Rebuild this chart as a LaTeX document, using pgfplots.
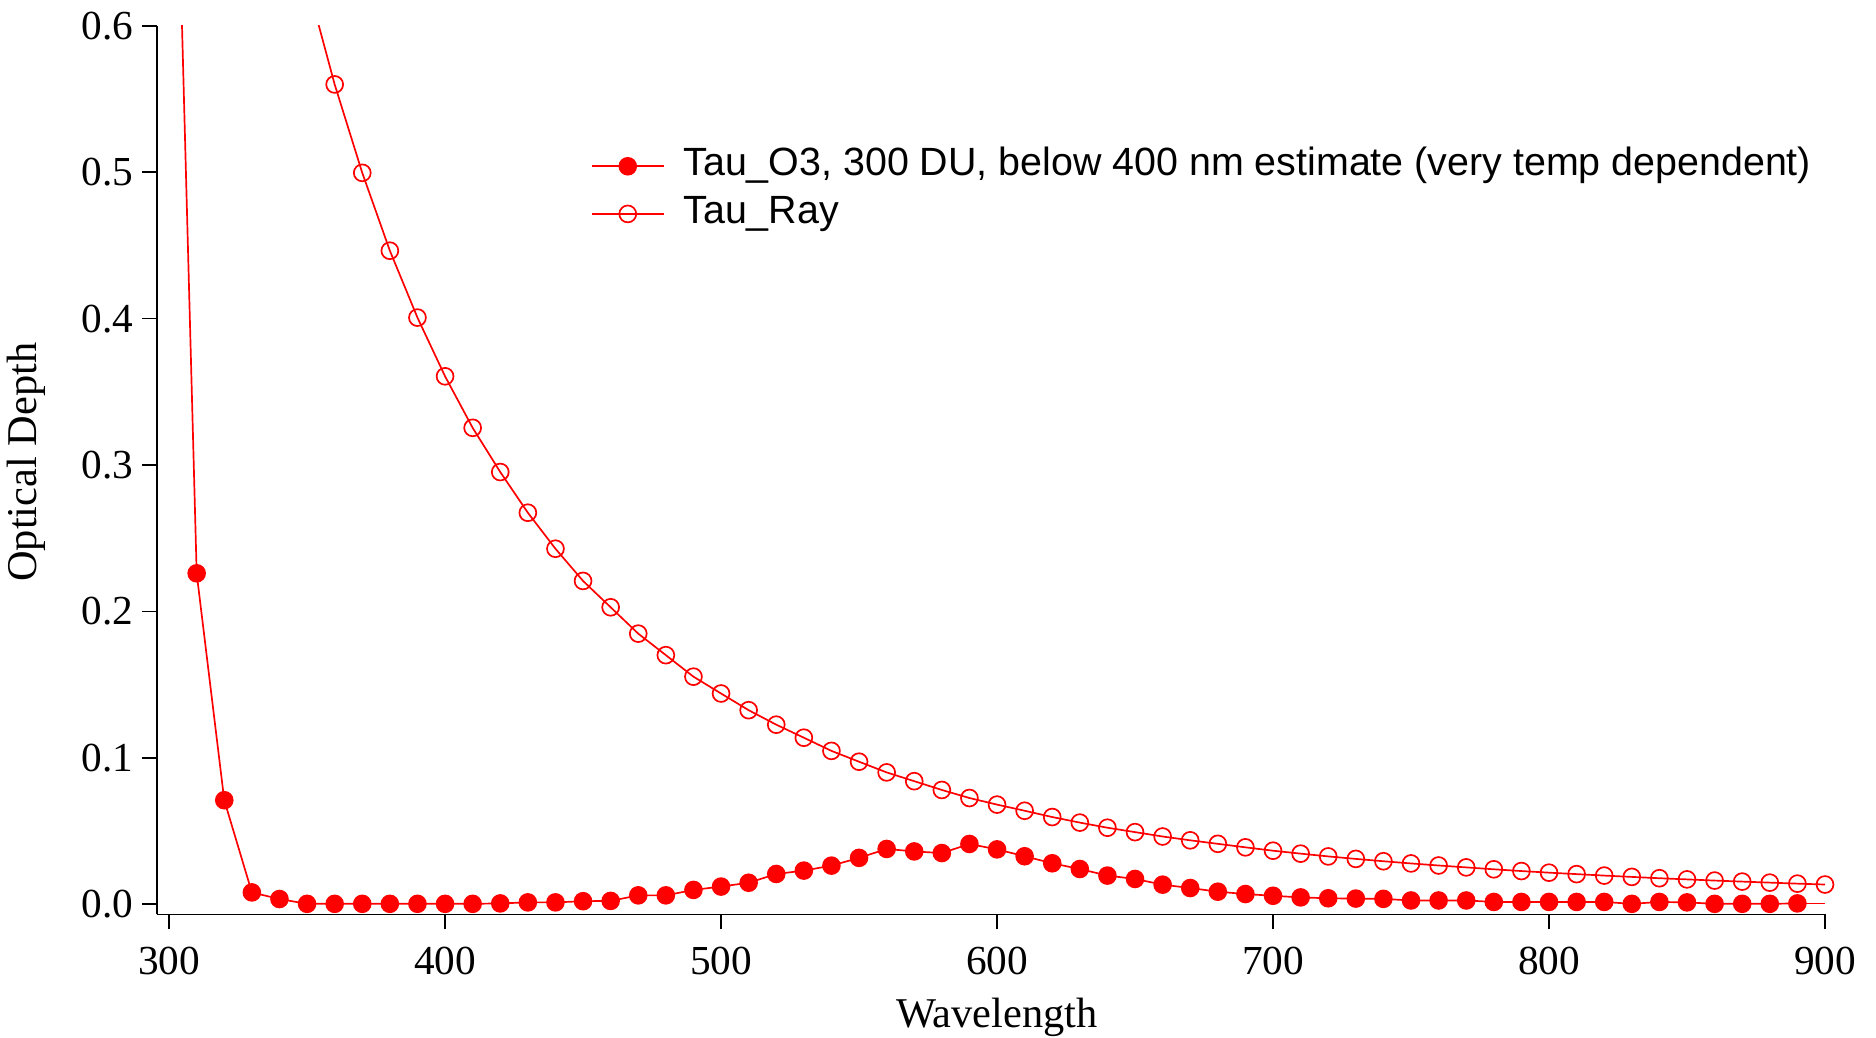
\documentclass[border=0pt]{standalone}
\usepackage{fontspec}
\setmainfont{Liberation Serif}
\newfontfamily\legfont{Liberation Sans}
\usepackage{pgfplots}
\usepackage{pgfplotstable}
\pgfplotsset{compat=1.18}
\definecolor{igred}{RGB}{255,0,0}

\pgfplotstableread{
x y
300 0.93
310 0.226
320 0.071
330 0.008
340 0.0035
350 0.0002
360 0.0002
370 0.0002
380 0.0002
390 0.0002
400 0.0002
410 0.0002
420 0.0005
430 0.0012
440 0.0012
450 0.002
460 0.0022
470 0.006
480 0.006
490 0.0097
500 0.012
510 0.0146
520 0.0206
530 0.0229
540 0.0263
550 0.0316
560 0.0377
570 0.0360
580 0.0349
590 0.0411
600 0.0374
610 0.0327
620 0.0279
630 0.0240
640 0.0195
650 0.0172
660 0.0133
670 0.0110
680 0.0085
690 0.0069
700 0.0057
710 0.0046
720 0.0040
730 0.0038
740 0.0036
750 0.0025
760 0.0025
770 0.0025
780 0.0015
790 0.0015
800 0.0015
810 0.0015
820 0.0015
830 0.0002
840 0.0015
850 0.0012
860 0.0002
870 0.0002
880 0.0002
890 0.0005
}\othree

\pgfplotstableread{
x y
890 0.0005
900 0.0005
}\othreeend

\pgfplotstableread{
x y
350 0.63
360 0.560
370 0.4996
380 0.4464
390 0.4007
400 0.3606
410 0.3254
420 0.2952
430 0.2674
440 0.2428
450 0.2208
460 0.2028
470 0.1848
480 0.1701
490 0.1554
500 0.1439
510 0.1325
520 0.1226
530 0.1137
540 0.1047
550 0.0973
560 0.0900
570 0.0840
580 0.0780
590 0.0725
600 0.0680
610 0.0638
620 0.0595
630 0.0557
640 0.0522
650 0.0492
660 0.0462
670 0.0436
680 0.0412
690 0.0388
700 0.0365
710 0.0345
720 0.0326
730 0.0309
740 0.0293
750 0.0278
760 0.0264
770 0.0251
780 0.0238
790 0.0226
800 0.0215
810 0.0205
820 0.0195
830 0.0186
840 0.0177
850 0.0169
860 0.0161
870 0.0154
880 0.0147
890 0.0140
900 0.0134
}\ray

\begin{document}
\begin{tikzpicture}
\useasboundingbox (-41.9pt,-32.8pt) rectangle (458.1pt,243.7pt);
\begin{axis}[
  scale only axis, width=444.5pt, height=236.8pt,
  at={(0pt,0pt)}, anchor=south west,
  xmin=295.7, xmax=900, ymin=-0.007, ymax=0.6,
  axis lines=left,
  axis line style={-, line width=0.45pt, black},
  tick align=outside, major tick length=4pt,
  tick style={line width=0.45pt, black},
  xtick={300,400,500,600,700,800,900},
  ytick={0,0.1,0.2,0.3,0.4,0.5,0.6},
  minor tick num=0,
  /pgf/number format/assume math mode=true,
  ticklabel style={font=\fontsize{11}{13}\selectfont},
  yticklabel style={/pgf/number format/fixed, /pgf/number format/fixed zerofill, /pgf/number format/precision=1, xshift=1.2pt},
  xticklabel style={yshift=-1.1pt},
  xlabel={Wavelength}, ylabel={Optical Depth},
  every axis x label/.style={at={([yshift=-27.5pt]axis description cs:0.5035,0)}, anchor=center, font=\fontsize{11.3}{13.5}\selectfont},
  every axis y label/.style={at={([xshift=-35pt]axis description cs:0,0.509)}, rotate=90, anchor=center, font=\fontsize{11.3}{13.5}\selectfont},
  legend style={legend cell align=left, draw=none, fill=none, inner sep=0pt,
    at={(axis description cs:0.2596,0.865)}, anchor=north west,
    font=\legfont\fontsize{10.5}{12.6}\selectfont,
    nodes={inner sep=0pt, text height=7.8pt, text depth=2.7pt},
    row sep=2.2pt, column sep=5.0pt},
  legend image code/.code={\draw[mark repeat=2, mark phase=2, #1] plot coordinates {(0pt,0pt) (9.6pt,0pt) (19.2pt,0pt)};},
]
\addplot[igred, line width=0.45pt, mark=*, mark size=2.25pt, mark options={fill=igred, draw=igred}] table[x=x, y=y] {\othree};
\addlegendentry{Tau\_O3, 300 DU, below 400 nm estimate (very temp dependent)}
\addplot[igred, line width=0.45pt, mark=o, mark size=2.25pt, mark options={draw=igred, line width=0.45pt}] table[x=x, y=y] {\ray};
\addlegendentry{Tau\_Ray}
\addplot[igred, line width=0.45pt, forget plot] table[x=x, y=y] {\othreeend};
\end{axis}
\end{tikzpicture}
\end{document}
